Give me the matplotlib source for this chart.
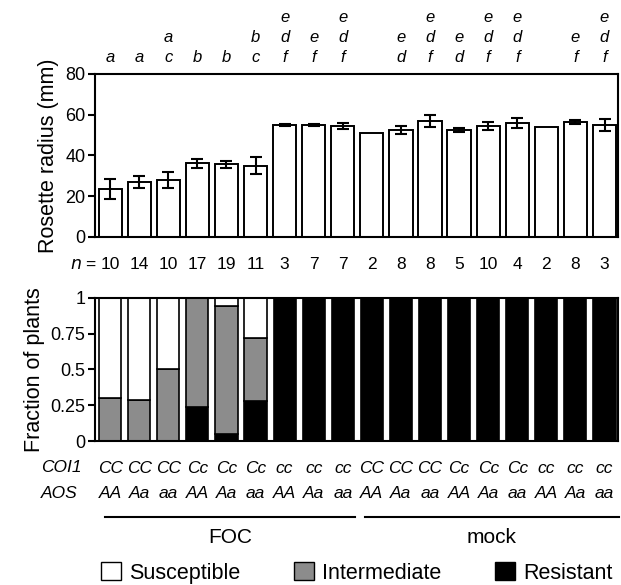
import numpy as np
import matplotlib.pyplot as plt
import matplotlib.transforms as mtransforms
from matplotlib.patches import Patch

plt.rcParams['font.family'] = ['Liberation Sans', 'DejaVu Sans']

# Datos
radio = [23.5, 27, 28, 36, 35.5, 35, 55, 55, 54.5, 51, 52.5, 57, 52.5, 54.5, 56, 54, 56.5, 55]
error = [5, 3, 4, 2, 1.5, 4, 0.5, 0.5, 1.5, 0, 2, 3, 1, 2, 2.5, 0, 1, 3]
letras = [["", "", "a"], ["", "", "a"], ["", "a", "c"], ["", "", "b"], ["", "", "b"],
          ["", "b", "c"], ["e", "d", "f"], ["", "e", "f"], ["e", "d", "f"], ["", "", ""],
          ["", "e", "d"], ["e", "d", "f"], ["", "e", "d"], ["e", "d", "f"], ["e", "d", "f"],
          ["", "", ""], ["", "e", "f"], ["e", "d", "f"]]
n_plantas = [10, 14, 10, 17, 19, 11, 3, 7, 7, 2, 8, 8, 5, 10, 4, 2, 8, 3]
resistente = [0, 0, 0, 0.24, 0.05, 0.28] + [1] * 12
intermedio = [0.30, 0.29, 0.50, 0.76, 0.89, 0.44] + [0] * 12
coi1 = ["CC", "CC", "CC", "Cc", "Cc", "Cc", "cc", "cc", "cc"] * 2
aos = ["AA", "Aa", "aa"] * 6
grupos = ["FOC", "mock"]

x = np.arange(len(radio))
resistente = np.array(resistente)
intermedio = np.array(intermedio)
susceptible = 1 - resistente - intermedio

gris = '#8c8c8c'
ancho = 0.8
ancho2 = 0.76

fig = plt.figure(figsize=(6.21, 5.85), dpi=100)
ax1 = fig.add_axes([0.153, 0.595, 0.842, 0.279])
ax2 = fig.add_axes([0.153, 0.246, 0.842, 0.245])

# Panel superior: radio de la roseta
ax1.bar(x, radio, width=ancho, color='white', edgecolor='black', linewidth=1.4, zorder=2)
con_error = [i for i in x if error[i] > 0]
ax1.errorbar(x[con_error], np.array(radio)[con_error], yerr=np.array(error)[con_error],
             fmt='none', ecolor='black', elinewidth=1.5, capsize=4.5, capthick=1.5, zorder=3)
ax1.set_ylim(0, 80)
ax1.set_yticks([0, 20, 40, 60, 80])
ax1.set_xlim(-0.52, 17.46)
ax1.set_xticks([])
ax1.set_ylabel("Rosette radius (mm)", fontsize=15.5, labelpad=4)

trans1 = mtransforms.blended_transform_factory(ax1.transData, ax1.transAxes)
filas_y = [1.344, 1.221, 1.098]
for i, pila in enumerate(letras):
    for fila, letra in enumerate(pila):
        if letra:
            ax1.text(i, filas_y[fila], letra, transform=trans1, ha='center', va='center',
                     fontsize=12, style='italic', clip_on=False)

ax1.text(-0.45, -0.172, "$n$ =", transform=trans1, ha='right', va='center', fontsize=12.5)
for i, n in enumerate(n_plantas):
    ax1.text(i, -0.172, str(n), transform=trans1, ha='center', va='center', fontsize=12.5)

# Panel inferior: fracción de plantas
ax2.bar(x, resistente, width=ancho2, color='black', edgecolor='black', linewidth=1.2)
ax2.bar(x, intermedio, bottom=resistente, width=ancho2, color=gris, edgecolor='black', linewidth=1.2)
ax2.bar(x, susceptible, bottom=resistente + intermedio, width=ancho2, color='white',
        edgecolor='black', linewidth=1.2)
ax2.set_ylim(0, 1)
ax2.set_yticks([0, 0.25, 0.5, 0.75, 1])
ax2.set_yticklabels(["0", "0.25", "0.5", "0.75", "1"])
ax2.set_xlim(-0.52, 17.46)
ax2.set_xticks([])
ax2.set_ylabel("Fraction of plants", fontsize=15.5, labelpad=4)

for ax in (ax1, ax2):
    for s in ax.spines.values():
        s.set_linewidth(1.5)
    ax.tick_params(axis='y', direction='out', length=5, width=1.5, labelsize=13, pad=2)

trans2 = mtransforms.blended_transform_factory(ax2.transData, ax2.transAxes)
for i in x:
    ax2.text(i, -0.189, coi1[i], transform=trans2, ha='center', va='center',
             fontsize=12.5, style='italic', clip_on=False)
    ax2.text(i, -0.364, aos[i], transform=trans2, ha='center', va='center',
             fontsize=12.5, style='italic', clip_on=False)
fig.text(0.066, 1 - 468 / 585, "COI1", ha='left', va='center', fontsize=12.5, style='italic')
fig.text(0.066, 1 - 493 / 585, "AOS", ha='left', va='center', fontsize=12.5, style='italic')

# Líneas de grupo
for g, (x0, x1) in zip(grupos, [(-0.17, 8.42), (8.76, 17.5)]):
    ax2.plot([x0, x1], [-0.531, -0.531], color='black', linewidth=1.5,
             transform=trans2, clip_on=False)
    ax2.text((x0 + x1) / 2, -0.67, g, transform=trans2, ha='center', va='center', fontsize=15)

# Leyenda
manejadores = [Patch(facecolor='white', edgecolor='black', label='Susceptible'),
               Patch(facecolor=gris, edgecolor='black', label='Intermediate'),
               Patch(facecolor='black', edgecolor='black', label='Resistant')]
fig.legend(handles=manejadores, loc='center', bbox_to_anchor=(0.575, 1 - 573 / 585), ncol=3,
           frameon=False, fontsize=15.5, handlelength=0.9, handleheight=0.9,
           handletextpad=0.4, columnspacing=2.5, borderaxespad=0)

fig.savefig("out.png", dpi=100)
